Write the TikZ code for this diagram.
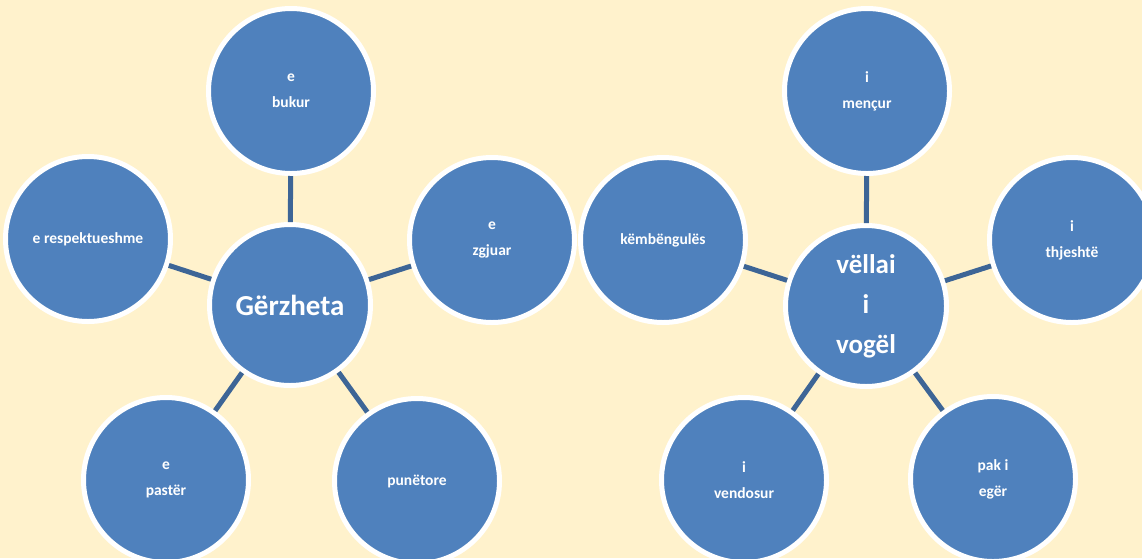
\documentclass[tikz,border=0pt]{standalone}
\usepackage{fontspec}
\setmainfont{Carlito}
\definecolor{bgcream}{RGB}{255,242,204}
\definecolor{bubble}{RGB}{79,129,189}
\definecolor{linkblue}{RGB}{61,101,150}
\tikzset{
  bubble/.style={circle, fill=bubble, draw=white, line width=5pt,
    minimum size=165pt, inner sep=0pt, text=white, align=center,
    font=\bfseries\fontsize{15.5}{26}\selectfont},
  hub/.style={bubble, minimum size=161pt,
    font=\bfseries\fontsize{27}{40}\selectfont},
  link/.style={draw=linkblue, line width=5pt}
}
\begin{document}
\begin{tikzpicture}[x=1pt,y=-1pt]
  \fill[bgcream] (0,0) rectangle (1142,558);
  \useasboundingbox (0,0) rectangle (1142,558);

  % left cluster
  \node[hub, font=\bfseries\fontsize{29}{40}\selectfont]
                (g)    at (290,305) {Gërzheta};
  \node[bubble] (buk)  at (291,91)  {e\\bukur};
  \node[bubble] (resp) at (88,239)  {e respektueshme};
  \node[bubble] (zgj)  at (492,240) {e\\zgjuar};
  \node[bubble] (pas)  at (166,480) {e\\pastër};
  \node[bubble] (pun)  at (417,481) {punëtore};

  % right cluster
  \node[hub]    (v)    at (866,306) {vëllai\\i\\vogël};
  \node[bubble] (men)  at (867,91)  {i\\mençur};
  \node[bubble] (kem)  at (663,240) {këmbëngulës};
  \node[bubble] (thj)  at (1072,240) {i\\thjeshtë};
  \node[bubble] (ven)  at (744,480) {i\\vendosur};
  \node[bubble] (egr)  at (993,479) {pak i\\egër};

  \foreach \a/\b in {g/buk, g/resp, g/zgj, g/pas, g/pun,
                     v/men, v/kem, v/thj, v/ven, v/egr}
    \draw[link] (\a) -- (\b);
\end{tikzpicture}
\end{document}
